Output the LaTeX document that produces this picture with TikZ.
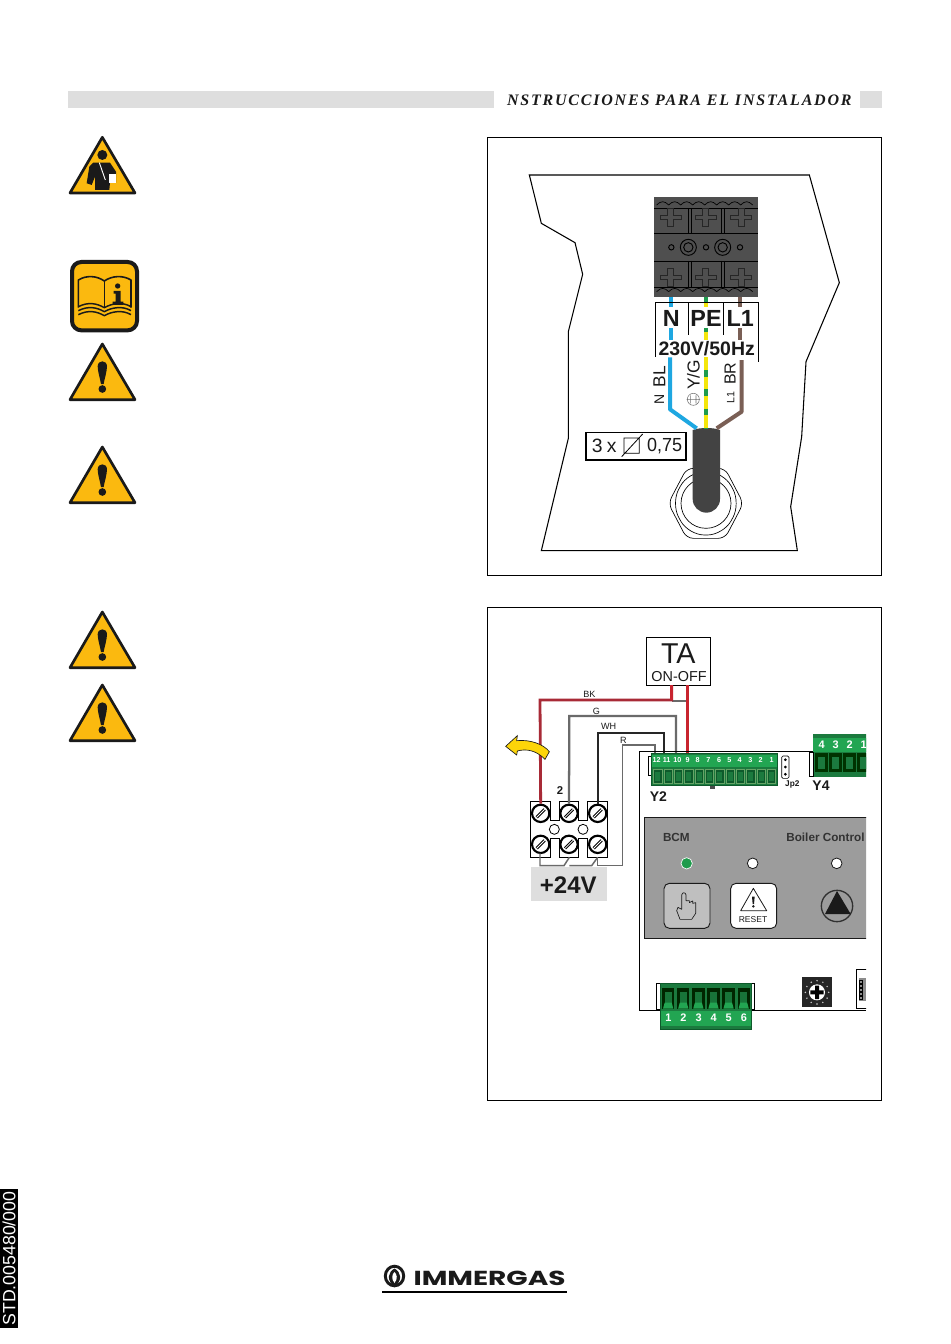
\documentclass[tikz,border=0pt]{standalone}
\usepackage{fontspec}
\setmainfont{Liberation Sans}
\newfontfamily\hdrfont[LetterSpace=11.2]{Liberation Serif}
\newfontfamily\logofont{Poppins}
\newcommand\fsz[1]{\fontsize{#1}{#1}\selectfont}
\definecolor{warnY}{HTML}{FBB90F}
\definecolor{ink}{HTML}{1A1A1A}
\definecolor{blockG}{HTML}{4F4F4F}
\definecolor{bandG}{HTML}{DEDEDE}
\definecolor{wBlue}{HTML}{1EA7E1}
\definecolor{wBrown}{HTML}{7A5F55}
\definecolor{wYel}{HTML}{F4E60C}
\definecolor{wGrn}{HTML}{1E9B4C}
\definecolor{wRed}{HTML}{A82A36}
\definecolor{wRedB}{HTML}{C8242F}
\definecolor{wGray}{HTML}{6A6A6A}
\definecolor{pcbB}{HTML}{22A552}
\definecolor{pcbD}{HTML}{1B7A3E}
\definecolor{pcbK}{HTML}{0E5A2B}
\definecolor{panelG}{HTML}{9C9C9C}
\tikzset{
  txt/.style={inner sep=0pt,outer sep=0pt,text=ink},
  ln/.style={draw=black,line width=0.6pt},
  frameb/.style={draw=black,line width=0.6pt,fill=white},
  wire/.style={line width=3pt,line cap=butt,line join=round},
  thin wire/.style={line width=1.7pt,line join=miter},
  tblock/.style={draw=#1,line width=0.5pt},
  cross/.style={draw=black!85,line width=0.5pt},
  screw/.style={circle,draw=black,line width=1.6pt,fill=white,minimum size=13pt,inner sep=0pt},
  num/.style={inner sep=0pt,text=white,font=\bfseries\fsz{5.4}},
  numb/.style={inner sep=0pt,text=white,font=\bfseries\fsz{8.2}},
}
\newcommand\warntri[2]{%
 \begin{scope}[shift={(60,#1-89.33)},x=0.25pt,y=-0.25pt]
  \fill[warnY,draw=ink,line width=2pt,line join=round] (127,268)--(225,435)--(30,435)--cycle;
  #2
 \end{scope}}
\newcommand\excl{%
  \fill[ink] (113,335) .. controls (113,315) and (141,315) .. (141,335) .. controls (141,350) and (133,375) .. (131,388) -- (123,388) .. controls (121,375) and (113,350) .. (113,335) -- cycle;
  \fill[ink] (127,403) circle[radius=11.5];}
\newcommand\crossat[2]{%
  \draw[cross] (#1-9,#2-28)--(#1+9,#2-28)--(#1+9,#2-7)--(#1+32,#2-7)--(#1+32,#2+7)--(#1+9,#2+7)--(#1+9,#2+28)--(#1-9,#2+28)--(#1-9,#2+7)--(#1-32,#2+7)--(#1-32,#2-7)--(#1-9,#2-7)--cycle;}
\begin{document}
\begin{tikzpicture}[x=0.75pt,y=-0.75pt]
\useasboundingbox (0,0) rectangle (950,1344);
\fill[white] (0,0) rectangle (950,1344);
% header
\fill[bandG] (68,91) rectangle (494,108);
\fill[bandG] (860,91) rectangle (882,108);
\node[txt,anchor=base west] (hdr) at (507,105.5) {\hdrfont\fsz{12}\bfseries\itshape NSTRUCCIONES PARA EL INSTALADOR};
% frames
\draw[ln] (487,137) rectangle (881,575);
\draw[ln] (487,607) rectangle (881,1100);
% icons
\warntri{137.3}{
 \begin{scope}[shift={(0,246)}]
  \fill[ink] (127,75) circle[radius=15];
  \fill[ink] (100,98)--(150,98)--(168,125)--(168,158)--(150,158)--(148,180)--(105,180)--(105,140)--(95,165)--(80,160)--(88,110)--cycle;
  \draw[white,line width=0.7pt] (118,98)--(136,150);
  \fill[white] (147,132) rectangle (167,158);
 \end{scope}
}
\warntri{344}{\excl}
\warntri{447}{\excl}
\warntri{612}{\excl}
\warntri{685}{\excl}
\begin{scope}[shift={(60,255)},x=0.25pt,y=-0.25pt]
  \fill[warnY,draw=ink,line width=3pt,rounded corners=7pt] (36,21) rectangle (231,226);
  \draw[ink,line width=1.2pt,line join=round] (55,158)--(55,75) .. controls (80,60) and (110,62) .. (133,78) .. controls (156,62) and (188,60) .. (213,75) -- (213,158);
  \draw[ink,line width=1.2pt] (133,78)--(133,155);
  \foreach \d in {0,12,24}{
    \draw[ink,line width=1.1pt] (55,155+\d) .. controls (85,140+\d) and (110,145+\d) .. (133,158+\d) .. controls (156,145+\d) and (188,140+\d) .. (213,155+\d);}
  \fill[ink] (173,93) circle[radius=8];
  \fill[ink] (161,108)--(182,108)--(182,140)--(190,140)--(190,150)--(158,150)--(158,140)--(167,140)--(167,116)--(161,116)--cycle;
\end{scope}
% ---------- panel 1, in 3x crop units
\begin{scope}[shift={(500,160)},x=0.25pt,y=-0.25pt]
  \draw[line width=0.8pt,line join=miter] (88,45)--(928,45)--(1018,368)--(918,605)--(905,830)--(872,1040)--(892,1172)--(124,1172)--(205,835)--(205,515)--(248,343)--(225,248)--(124,190)--cycle;
  % gland
  \draw[line width=0.5pt,rounded corners=5pt] (730,1030)--(675,925)--(560,925)--(505,1030)--(560,1135)--(675,1135)--cycle;
  \draw[line width=0.5pt,rounded corners=12pt] (722,1030)--(670,935)--(565,935)--(513,1030)--(565,1125)--(670,1125)--cycle;
  \draw[line width=0.5pt] (618,1030) circle[radius=75];
  % cable
  \fill[blockG!85!black] (578,810) .. controls (600,802) and (640,802) .. (660,810) -- (660,1017) arc[start angle=0,end angle=180,radius=41] -- cycle;
  % terminal block
  \fill[blockG] (462,112) rectangle (773,412);
  \foreach \a/\b in {145/220,303/382}{
    \draw[tblock=black] (462,\a)--(773,\a);
    \draw[tblock=black] (462,\b)--(773,\b);
    \foreach \x in {565,575,665,673}{\draw[tblock=black] (\x,\a)--(\x,\b);}
  }
  \foreach \x in {470,506,542,578,614,650,686,722}{
    \draw[tblock=black] (\x,135) .. controls (\x+12,122) and (\x+24,122) .. (\x+36,135);
    \draw[tblock=black] (\x,395) .. controls (\x+12,382) and (\x+24,382) .. (\x+36,395);}
  \foreach \x in {512,617,723}{\crossat{\x}{172}\crossat{\x}{352}}
  \foreach \x in {514,618,720}{\draw[tblock=black,line width=0.7pt] (\x,262) circle[radius=8];}
  \foreach \x in {565,668}{\draw[tblock=black,line width=0.7pt] (\x,262) circle[radius=24] (\x,262) circle[radius=14];}
  % wires
  \foreach \a/\b in {412/440,505/540}{\draw[wire,wBlue] (513,\a)--(513,\b);}
  \coordinate (blueTop) at (510,592);
  \coordinate (cableL) at (590,805);
  \draw[wire,wBlue] (blueTop)--(510,748)--(cableL);
  \foreach \a/\b in {412/440,505/540}{\draw[wire,wBrown] (721,\a)--(721,\b);}
  \coordinate (brownTop) at (725,600);
  \coordinate (cableR) at (650,805);
  \draw[wire,wBrown] (brownTop)--(725,755)--(cableR);
  \draw[wire,wGrn] (617,412)--(617,425);
  \draw[wire,wYel] (617,425)--(617,440);
  \draw[wire,wGrn] (617,505)--(617,515);
  \draw[wire,wYel] (617,515)--(617,540);
  \coordinate (pePinT) at (617,592);
  \coordinate (pePinB) at (617,805);
  \draw[wire,wYel] (pePinT)--(pePinB);
  \draw[wire,wGrn,dash pattern=on 5pt off 9.5pt,dash phase=-9.5pt] (pePinT)--(pePinB);
  % label grid
  \draw[line width=0.5pt] (465,590)--(465,428)--(775,428)--(775,605);
  \draw[line width=0.5pt] (565,428)--(565,525) (670,428)--(670,525);
  \node[txt,font=\bfseries\fsz{17.5}] (lN) at (514,476) {N};
  \node[txt,font=\bfseries\fsz{17.5}] (lPE) at (618,476) {PE};
  \node[txt,font=\bfseries\fsz{17.5}] (lL) at (721,476) {L1};
  \node[txt,font=\bfseries\fsz{14.6}] (lV) at (620,566) {230V/50Hz};
  \node[txt,rotate=90,font=\fsz{10.5}] (rN) at (478,718) {N};
  \node[txt,rotate=90,font=\fsz{13}] (rBL) at (478,650) {BL};
  \node[txt,rotate=90,font=\fsz{13}] (rYG) at (580,645) {Y/G};
  \node[txt,rotate=90,font=\fsz{8}] (rL) at (692,713) {L1};
  \node[txt,rotate=90,font=\fsz{12}] (rBR) at (690,641) {BR};
  \draw[black!55,line width=0.4pt] (580,718) circle[radius=18] (560,718)--(600,718) (572,706)--(572,730) (588,706)--(588,730);
  % section box
  \node[draw=black,line width=0.8pt,fill=white,minimum width=75pt,minimum height=20.5pt,inner sep=0pt] (sect) at (408,859) {};
  \node[txt,font=\fsz{14.5}] (s3) at (292,859) {3};
  \node[txt,font=\fsz{14.5}] (sx) at (335,862) {x};
  \draw[line width=0.6pt] (372,834) rectangle (418,880) (365,890)--(428,822);
  \node[txt,font=\fsz{14.2},xscale=0.95] (s075) at (494,859) {0,75};
\end{scope}
% ---------- panel 2, in 3x crop units
\begin{scope}[shift={(490,620)},x=0.25pt,y=-0.25pt]
  \fill[bandG] (123,740) rectangle (352,842);
  \node[txt,font=\bfseries\fsz{18}] (v24) at (235,795) {+24V};
  \node[frameb,minimum width=47.7pt,minimum height=35.7pt,inner sep=0pt] (TA) at (565.5,124.5) {};
  \node[txt,font=\fsz{21.5}] (taT) at (565,100) {TA};
  \node[txt,font=\fsz{10.8}] (taO) at (567,170) {ON-OFF};
  % terminal strip
  \draw[line width=0.7pt,fill=white] (122,543)--(182,543)--(182,600)--(208,600)--(208,543)--(265,543)--(265,600)--(293,600)--(293,543)--(352,543)--(352,712)--(293,712)--(293,655)--(265,655)--(265,712)--(208,712)--(208,655)--(182,655)--(182,712)--(122,712)--cycle;
  \foreach \x in {193,279}{\draw[line width=0.6pt,fill=white] (\x,628) circle[radius=15];}
  \foreach \n/\x/\y in {a/152/580,b/237/580,c/323/580,d/152/673,e/237/673,f/323/673}{
    \node[screw] (scr\n) at (\x,\y) {};
    \draw[line width=2.2pt] (\x-12,\y+12)--(\x+12,\y-12);
    \draw[white,line width=0.6pt] (\x-12,\y+12)--(\x+12,\y-12);
  }
  % connector ends
  \coordinate (taA) at (545,196);
  \coordinate (taB) at (592,196);
  \coordinate (y9) at (592,400);
  \coordinate (y10) at (558,400);
  \coordinate (y11) at (523,400);
  \coordinate (y12) at (495,400);
  \draw[wGray,line width=1.5pt] (taA)++(0,46) -- (592,242);
  \draw[wRed,thin wire,line width=2.1pt] (taA) -- (545,240) -- (150,240) -- (scra.north);
  \draw[wRedB,line width=2.7pt] (taA)--++(0,44);
  \draw[wRedB,line width=2.7pt] (taB)--(y9);
  \draw[wGray,thin wire] (y10) -- (558,288) -- (238,288) -- (scrb.north);
  \draw[black!85,thin wire] (y11) -- (523,340) -- (323,340) -- (scrc.north);
  \draw[wGray,line width=1.2pt] (y12) -- (495,375) -- (398,375) -- (398,737) -- (323,737) -- (323,712);
  \draw[wGray,line width=1.1pt] (150,700)--(150,737)--(222,737)--(238,712);
  \draw[wGray,line width=1.1pt] (238,737)--(305,737)--(323,712);
  \node[txt,font=\fsz{6.8}] (lBK) at (298,224) {BK};
  \node[txt,font=\fsz{6.8}] (lG) at (319,273) {G};
  \node[txt,font=\fsz{6.8}] (lWH) at (356,318) {WH};
  \node[txt,font=\fsz{6.8}] (lR) at (400,360) {R};
  \node[txt,font=\bfseries\fsz{8.5}] (l2) at (210,511) {2};
  \fill[warnY!60!yellow,draw=ink,line width=0.5pt,line join=miter] (47,379)--(82,347)--(80,362) .. controls (120,358) and (160,372) .. (178,395) -- (165,418) .. controls (140,392) and (110,385) .. (82,393) -- (80,405) -- cycle;
  % board outline
  \begin{scope}
    \clip (0,0) rectangle (1128,1400);
    \draw[line width=0.7pt] (1128,395)--(448,395)--(448,1170)--(1128,1170);
    % Y4
    \fill[pcbD] (970,342) rectangle (1140,470);
    \fill[pcbB] (970,355) rectangle (1140,395);
    \draw[fill=white,line width=0.5pt] (958,397) rectangle (970,468);
    \foreach \i/\t in {0/4,1/3,2/2,3/1}{
      \node[numb] (yfour\i) at (995+42*\i,375) {\t};
      \fill[black!80!green] (976+42*\i,398) rectangle (1013+42*\i,455);
      \fill[pcbD] (983+42*\i,412) rectangle (1006+42*\i,448);
    }
    \node[txt,font=\bfseries\fsz{10.5}] (yfourL) at (993,497) {Y4};
    % control panel
    \fill[panelG,draw=ink,line width=0.6pt] (463,592) rectangle (1140,955);
    \node[txt,font=\bfseries\fsz{8.8},text=black!80,anchor=base west] (bcm) at (519,665) {BCM};
    \node[txt,font=\bfseries\fsz{8.8},text=black!80,anchor=base west] (boil) at (889,665) {Boiler Control};
    \fill[wGrn,draw=white,line width=0.5pt] (590,730) circle[radius=17];
    \fill[white,draw=ink,line width=0.6pt] (788,730) circle[radius=16];
    \fill[white,draw=ink,line width=0.6pt] (1040,730) circle[radius=16];
    \begin{scope}[shift={(480,750)}]
      \fill[black!25,draw=ink,line width=0.7pt,rounded corners=4pt] (42,40) rectangle (180,175);
      \draw[ink,line width=0.5pt,line join=round] (90,148) -- (80,122) -- (84,112) -- (95,118) -- (95,75) .. controls (96,66) and (107,66) .. (108,75) -- (108,92) -- (118,92) -- (118,98) -- (128,93) -- (128,100) -- (137,98) -- (137,130) -- (125,148) -- cycle;
      \fill[white,draw=ink,line width=0.7pt,rounded corners=4pt] (242,40) rectangle (380,175);
      \draw[ink,line width=0.6pt,line join=round] (310,55)--(350,122)--(272,122)--cycle;
      \fill[ink] (306,80)--(314,80)--(312,102)--(308,102)--cycle;
      \fill[ink] (310,109) circle[radius=4];
      \node[txt,font=\fsz{6.4}] (rst) at (309,150) {RESET};
      \draw[ink!90,line width=1pt] (561,108) circle[radius=47];
      \fill[ink] (561,63)--(602,132)--(525,132)--cycle;
    \end{scope}
    % rotary switch
    \fill[black!85] (936,1072) rectangle (1026,1162);
    \fill[white] (981,1117) circle[radius=24];
    \fill[black] (975,1097) rectangle (987,1137) (961,1111) rectangle (1001,1123);
    \foreach \a in {0,30,...,330}{\fill[white!80!black] (981,1117)++(\a:35) circle[radius=2.5];}
    % DIP
    \draw[fill=white,line width=0.5pt] (1100,1048) rectangle (1140,1165);
    \fill[black!45] (1107,1075) rectangle (1128,1142);
    \foreach \y in {1080,1092,1104,1116,1128}{\draw[black,line width=0.5pt] (1107,\y) rectangle (1118,\y+10);}
  \end{scope}
  % Y2
  \draw[fill=white,line width=0.5pt] (475,410) rectangle (486,467);
  \fill[black!70] (659,495) rectangle (676,506);
  \fill[pcbD,draw=pcbK,line width=0.4pt] (484,400) rectangle (863,497);
  \fill[pcbB] (486,405) rectangle (861,440);
  \foreach \t/\x in {12/500,11/530,10/562,9/593,8/623,7/655,6/687,5/718,4/749,3/781,2/812,1/845}{
    \node[num] (yt\t) at (\x,421) {\t};
  }
  \foreach \i in {0,...,11}{
    \draw[green!40!black!60!white,line width=0.4pt,fill=pcbK] (491+31*\i,448) rectangle (516+31*\i,490);
    \fill[pcbD] (496+31*\i,455) rectangle (511+31*\i,484);
  }
  \draw[fill=white,line width=0.5pt,rounded corners=1pt] (875,408) rectangle (897,475);
  \foreach \y in {419,441,463}{\fill[black] (886,\y) circle[radius=4.5];}
  \node[txt,font=\bfseries\fsz{6.2}] (jp) at (907,492) {Jp2};
  \node[txt,font=\bfseries\fsz{10.5}] (ytwoL) at (505,530) {Y2};
  % bottom connector
  \draw[fill=white,line width=0.5pt] (500,1090) rectangle (511,1168);
  \draw[fill=white,line width=0.5pt] (784,1090) rectangle (793,1168);
  \fill[pcbD,draw=pcbK,line width=0.4pt] (510,1090) rectangle (785,1228);
  \fill[pcbB] (512,1172) rectangle (783,1218);
  \foreach \i/\t in {0/1,1/2,2/3,3/4,4/5,5/6}{
    \node[numb] (ybot\t) at (535+45.3*\i,1192) {\t};
    \fill[black!85!green] (516+45.3*\i,1104) rectangle (553+45.3*\i,1166);
    \fill[pcbB!70!black] (524+45.3*\i,1115) rectangle (545+45.3*\i,1148);
    \fill[pcbB] (524+45.3*\i,1148)--(545+45.3*\i,1148)--(550+45.3*\i,1166)--(519+45.3*\i,1166)--cycle;
  }
\end{scope}
% footer
\draw[line width=0.8pt] (382,1292)--(567,1292);
\node[txt,anchor=west,text=ink] (logo) at (413.5,1278.5) {\scalebox{1.38}[1]{\logofont\fsz{15.2}\bfseries IMMERGAS}};
\draw[ink,line width=2.2pt] (394.5,1276) ellipse[x radius=9.2,y radius=9.8];
\fill[ink] (394.5,1287) .. controls (386,1280) and (388,1272) .. (394.5,1268.5) .. controls (401,1272) and (403,1280) .. (394.5,1287) -- cycle;
\fill[white] (394.5,1283) .. controls (391,1279) and (392,1274) .. (394.5,1272) .. controls (397,1274) and (398,1279) .. (394.5,1283) -- cycle;
% side stamp
\fill[black] (0,1189) rectangle (18,1328);
\node[inner sep=0pt,rotate=90,text=white,font=\fsz{13.3}] (std) at (9,1258.5) {STD.005480/000};
\end{tikzpicture}
\end{document}
